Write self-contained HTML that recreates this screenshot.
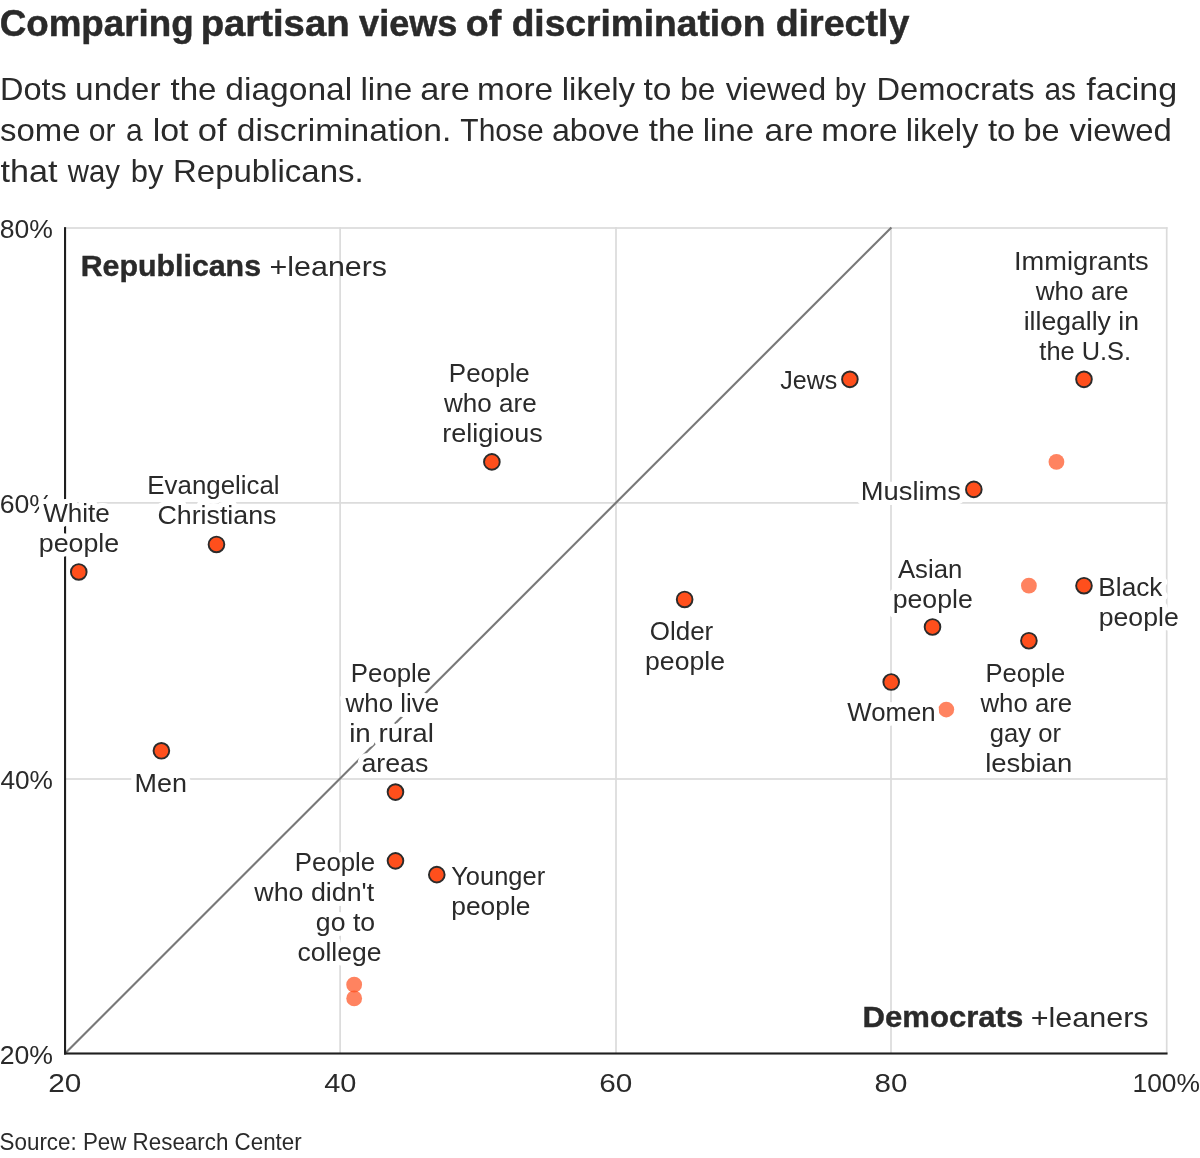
<!DOCTYPE html>
<html lang="en">
<head>
<meta charset="utf-8">
<title>Comparing partisan views of discrimination directly</title>
<style>
html,body{margin:0;padding:0;background:#fff;}
body{width:1200px;height:1158px;overflow:hidden;}
svg{display:block;will-change:transform;}
text{font-family:"Liberation Sans",Arial,Helvetica,sans-serif;fill:#2a2a2a;}
text.b{font-weight:700;}
text.h{paint-order:stroke fill;stroke:#fff;stroke-width:10px;stroke-linejoin:round;}
</style>
</head>
<body>
<svg width="1200" height="1158" viewBox="0 0 1200 1158">
<rect width="1200" height="1158" fill="#fff"/>
<g id="grid">
<rect x="339.25" y="227.15" width="1.7" height="826.35" fill="#dbdbdb"/>
<rect x="615.15" y="227.15" width="1.7" height="826.35" fill="#dbdbdb"/>
<rect x="890.15" y="227.15" width="1.7" height="826.35" fill="#dbdbdb"/>
<rect x="1165.85" y="227.15" width="1.7" height="826.35" fill="#dbdbdb"/>
<rect x="65" y="227.15" width="1102.55" height="1.7" fill="#dbdbdb"/>
<rect x="65" y="502.05" width="1102.55" height="1.7" fill="#dbdbdb"/>
<rect x="65" y="778.15" width="1102.55" height="1.7" fill="#dbdbdb"/>
<line x1="65" y1="1053.5" x2="891.4" y2="227.4" stroke="#787878" stroke-width="2.1"/>
<rect x="64" y="227.15" width="2.1" height="827.40" fill="#1f1f1f"/>
<rect x="64" y="1052.45" width="1103.55" height="2.1" fill="#1f1f1f"/>
</g>
<g id="dots">
<circle cx="1056.44" cy="461.89" r="7.9" fill="#ff4f1c" fill-opacity="0.7"/>
<circle cx="1028.90" cy="585.71" r="7.9" fill="#ff4f1c" fill-opacity="0.7"/>
<circle cx="946.28" cy="709.53" r="7.9" fill="#ff4f1c" fill-opacity="0.7"/>
<circle cx="354.17" cy="984.69" r="7.9" fill="#ff4f1c" fill-opacity="0.7"/>
<circle cx="354.17" cy="998.45" r="7.9" fill="#ff4f1c" fill-opacity="0.7"/>
<circle cx="78.77" cy="571.95" r="7.85" fill="#ff4f1c" stroke="#2b2b2b" stroke-width="1.9"/>
<circle cx="216.47" cy="544.43" r="7.85" fill="#ff4f1c" stroke="#2b2b2b" stroke-width="1.9"/>
<circle cx="491.87" cy="461.89" r="7.85" fill="#ff4f1c" stroke="#2b2b2b" stroke-width="1.9"/>
<circle cx="849.89" cy="379.34" r="7.85" fill="#ff4f1c" stroke="#2b2b2b" stroke-width="1.9"/>
<circle cx="1083.98" cy="379.34" r="7.85" fill="#ff4f1c" stroke="#2b2b2b" stroke-width="1.9"/>
<circle cx="973.82" cy="489.40" r="7.85" fill="#ff4f1c" stroke="#2b2b2b" stroke-width="1.9"/>
<circle cx="1083.98" cy="585.71" r="7.85" fill="#ff4f1c" stroke="#2b2b2b" stroke-width="1.9"/>
<circle cx="932.51" cy="626.98" r="7.85" fill="#ff4f1c" stroke="#2b2b2b" stroke-width="1.9"/>
<circle cx="1028.90" cy="640.74" r="7.85" fill="#ff4f1c" stroke="#2b2b2b" stroke-width="1.9"/>
<circle cx="891.20" cy="682.01" r="7.85" fill="#ff4f1c" stroke="#2b2b2b" stroke-width="1.9"/>
<circle cx="684.65" cy="599.47" r="7.85" fill="#ff4f1c" stroke="#2b2b2b" stroke-width="1.9"/>
<circle cx="161.39" cy="750.80" r="7.85" fill="#ff4f1c" stroke="#2b2b2b" stroke-width="1.9"/>
<circle cx="395.48" cy="792.08" r="7.85" fill="#ff4f1c" stroke="#2b2b2b" stroke-width="1.9"/>
<circle cx="395.48" cy="860.87" r="7.85" fill="#ff4f1c" stroke="#2b2b2b" stroke-width="1.9"/>
<circle cx="436.79" cy="874.63" r="7.85" fill="#ff4f1c" stroke="#2b2b2b" stroke-width="1.9"/>
</g>
<g id="labels">
<text y="35.80" font-size="36" class="b" stroke="#2a2a2a" stroke-width="0.5"><tspan x="-0.31" textLength="193.97" lengthAdjust="spacingAndGlyphs">Comparing</tspan> <tspan x="200.68" textLength="148.90" lengthAdjust="spacingAndGlyphs">partisan</tspan> <tspan x="359.06" textLength="98.42" lengthAdjust="spacingAndGlyphs">views</tspan> <tspan x="465.74" textLength="35.39" lengthAdjust="spacingAndGlyphs">of</tspan> <tspan x="511.68" textLength="253.83" lengthAdjust="spacingAndGlyphs">discrimination</tspan> <tspan x="775.66" textLength="133.74" lengthAdjust="spacingAndGlyphs">directly</tspan></text>
<text y="99.70" font-size="31.5"><tspan x="0.03" textLength="66.84" lengthAdjust="spacingAndGlyphs">Dots</tspan> <tspan x="75.13" textLength="85.42" lengthAdjust="spacingAndGlyphs">under</tspan> <tspan x="170.50" textLength="45.97" lengthAdjust="spacingAndGlyphs">the</tspan> <tspan x="225.29" textLength="126.96" lengthAdjust="spacingAndGlyphs">diagonal</tspan> <tspan x="360.46" textLength="51.71" lengthAdjust="spacingAndGlyphs">line</tspan> <tspan x="420.24" textLength="49.58" lengthAdjust="spacingAndGlyphs">are</tspan> <tspan x="477.08" textLength="76.10" lengthAdjust="spacingAndGlyphs">more</tspan> <tspan x="561.78" textLength="73.29" lengthAdjust="spacingAndGlyphs">likely</tspan> <tspan x="643.49" textLength="27.91" lengthAdjust="spacingAndGlyphs">to</tspan> <tspan x="680.26" textLength="35.14" lengthAdjust="spacingAndGlyphs">be</tspan> <tspan x="725.69" textLength="100.59" lengthAdjust="spacingAndGlyphs">viewed</tspan> <tspan x="834.80" textLength="31.05" lengthAdjust="spacingAndGlyphs">by</tspan> <tspan x="876.52" textLength="157.96" lengthAdjust="spacingAndGlyphs">Democrats</tspan> <tspan x="1044.53" textLength="31.55" lengthAdjust="spacingAndGlyphs">as</tspan> <tspan x="1086.22" textLength="90.98" lengthAdjust="spacingAndGlyphs">facing</tspan></text>
<text y="141.00" font-size="31.5"><tspan x="0.09" textLength="80.38" lengthAdjust="spacingAndGlyphs">some</tspan> <tspan x="88.74" textLength="26.76" lengthAdjust="spacingAndGlyphs">or</tspan> <tspan x="126.03" textLength="16.67" lengthAdjust="spacingAndGlyphs">a</tspan> <tspan x="152.71" textLength="35.83" lengthAdjust="spacingAndGlyphs">lot</tspan> <tspan x="197.85" textLength="28.80" lengthAdjust="spacingAndGlyphs">of</tspan> <tspan x="236.89" textLength="214.47" lengthAdjust="spacingAndGlyphs">discrimination.</tspan> <tspan x="460.33" textLength="83.31" lengthAdjust="spacingAndGlyphs">Those</tspan> <tspan x="551.93" textLength="87.80" lengthAdjust="spacingAndGlyphs">above</tspan> <tspan x="648.80" textLength="45.97" lengthAdjust="spacingAndGlyphs">the</tspan> <tspan x="702.78" textLength="51.39" lengthAdjust="spacingAndGlyphs">line</tspan> <tspan x="764.56" textLength="48.94" lengthAdjust="spacingAndGlyphs">are</tspan> <tspan x="821.38" textLength="76.10" lengthAdjust="spacingAndGlyphs">more</tspan> <tspan x="905.69" textLength="72.77" lengthAdjust="spacingAndGlyphs">likely</tspan> <tspan x="987.90" textLength="27.48" lengthAdjust="spacingAndGlyphs">to</tspan> <tspan x="1023.41" textLength="36.03" lengthAdjust="spacingAndGlyphs">be</tspan> <tspan x="1069.49" textLength="102.23" lengthAdjust="spacingAndGlyphs">viewed</tspan></text>
<text y="182.10" font-size="31.5"><tspan x="0.48" textLength="57.07" lengthAdjust="spacingAndGlyphs">that</tspan> <tspan x="67.74" textLength="52.31" lengthAdjust="spacingAndGlyphs">way</tspan> <tspan x="130.71" textLength="32.65" lengthAdjust="spacingAndGlyphs">by</tspan> <tspan x="172.99" textLength="190.72" lengthAdjust="spacingAndGlyphs">Republicans.</tspan></text>
<text x="-0.42" y="1150.00" font-size="24" textLength="302.09" lengthAdjust="spacingAndGlyphs">Source: Pew Research Center</text>
<text x="-0.15" y="238.40" font-size="26.5" textLength="53.10" lengthAdjust="spacingAndGlyphs">80%</text>
<text x="-0.35" y="513.30" font-size="26.5" textLength="53.30" lengthAdjust="spacingAndGlyphs">60%</text>
<text x="0.40" y="789.40" font-size="26.5" textLength="52.54" lengthAdjust="spacingAndGlyphs">40%</text>
<text x="-0.34" y="1063.90" font-size="26.5" textLength="53.29" lengthAdjust="spacingAndGlyphs">20%</text>
<text x="48.31" y="1092.00" font-size="26.5" textLength="33.06" lengthAdjust="spacingAndGlyphs">20</text>
<text x="324.24" y="1092.00" font-size="26.5" textLength="32.19" lengthAdjust="spacingAndGlyphs">40</text>
<text x="599.29" y="1092.00" font-size="26.5" textLength="33.07" lengthAdjust="spacingAndGlyphs">60</text>
<text x="874.52" y="1092.00" font-size="26.5" textLength="32.84" lengthAdjust="spacingAndGlyphs">80</text>
<text x="1132.49" y="1092.00" font-size="26.5" textLength="67.45" lengthAdjust="spacingAndGlyphs">100%</text>
<text x="80.67" y="276.00" font-size="29" textLength="180.37" lengthAdjust="spacingAndGlyphs" class="b" stroke="#2a2a2a" stroke-width="0.4">Republicans</text>
<text x="269.51" y="276.00" font-size="28.5" textLength="117.59" lengthAdjust="spacingAndGlyphs">+leaners</text>
<text x="862.62" y="1027.40" font-size="29" textLength="160.65" lengthAdjust="spacingAndGlyphs" class="b" stroke="#2a2a2a" stroke-width="0.4">Democrats</text>
<text x="1030.71" y="1027.40" font-size="28.5" textLength="117.89" lengthAdjust="spacingAndGlyphs">+leaners</text>
<text x="1013.99" y="269.70" font-size="25" textLength="134.75" lengthAdjust="spacingAndGlyphs" class="h">Immigrants</text>
<text x="1035.74" y="299.70" font-size="25" textLength="92.92" lengthAdjust="spacingAndGlyphs" class="h">who are</text>
<text x="1023.72" y="329.70" font-size="25" textLength="115.25" lengthAdjust="spacingAndGlyphs" class="h">illegally in</text>
<text x="1039.37" y="359.70" font-size="25" textLength="91.65" lengthAdjust="spacingAndGlyphs" class="h">the U.S.</text>
<text x="43.19" y="521.80" font-size="25" textLength="66.67" lengthAdjust="spacingAndGlyphs" class="h">White</text>
<text x="38.77" y="551.50" font-size="25" textLength="80.42" lengthAdjust="spacingAndGlyphs" class="h">people</text>
<text x="147.38" y="494.30" font-size="25" textLength="132.15" lengthAdjust="spacingAndGlyphs" class="h">Evangelical</text>
<text x="157.44" y="523.90" font-size="25" textLength="119.03" lengthAdjust="spacingAndGlyphs" class="h">Christians</text>
<text x="448.87" y="382.00" font-size="25" textLength="80.78" lengthAdjust="spacingAndGlyphs" class="h">People</text>
<text x="444.04" y="411.80" font-size="25" textLength="92.62" lengthAdjust="spacingAndGlyphs" class="h">who are</text>
<text x="442.21" y="441.60" font-size="25" textLength="100.57" lengthAdjust="spacingAndGlyphs" class="h">religious</text>
<text x="780.21" y="389.20" font-size="25" textLength="57.10" lengthAdjust="spacingAndGlyphs" class="h">Jews</text>
<text x="860.76" y="499.60" font-size="25" textLength="100.23" lengthAdjust="spacingAndGlyphs" class="h">Muslims</text>
<text x="897.95" y="577.60" font-size="25" textLength="64.32" lengthAdjust="spacingAndGlyphs" class="h">Asian</text>
<text x="892.68" y="607.60" font-size="25" textLength="80.10" lengthAdjust="spacingAndGlyphs" class="h">people</text>
<text x="1098.35" y="595.50" font-size="25" textLength="64.11" lengthAdjust="spacingAndGlyphs" class="h">Black</text>
<text x="1098.79" y="625.50" font-size="25" textLength="79.90" lengthAdjust="spacingAndGlyphs" class="h">people</text>
<text x="847.39" y="721.00" font-size="25" textLength="88.29" lengthAdjust="spacingAndGlyphs" class="h">Women</text>
<text x="985.50" y="681.60" font-size="25" textLength="79.63" lengthAdjust="spacingAndGlyphs" class="h">People</text>
<text x="980.44" y="711.60" font-size="25" textLength="91.71" lengthAdjust="spacingAndGlyphs" class="h">who are</text>
<text x="989.83" y="741.60" font-size="25" textLength="71.10" lengthAdjust="spacingAndGlyphs" class="h">gay or</text>
<text x="985.15" y="771.60" font-size="25" textLength="87.03" lengthAdjust="spacingAndGlyphs" class="h">lesbian</text>
<text x="649.77" y="639.75" font-size="25" textLength="63.46" lengthAdjust="spacingAndGlyphs" class="h">Older</text>
<text x="645.09" y="669.75" font-size="25" textLength="79.85" lengthAdjust="spacingAndGlyphs" class="h">people</text>
<text x="134.54" y="791.75" font-size="25" textLength="52.41" lengthAdjust="spacingAndGlyphs" class="h">Men</text>
<text x="350.89" y="681.50" font-size="25" textLength="80.26" lengthAdjust="spacingAndGlyphs" class="h">People</text>
<text x="345.64" y="711.50" font-size="25" textLength="93.51" lengthAdjust="spacingAndGlyphs" class="h">who live</text>
<text x="349.15" y="741.50" font-size="25" textLength="84.71" lengthAdjust="spacingAndGlyphs" class="h">in rural</text>
<text x="361.46" y="771.50" font-size="25" textLength="66.90" lengthAdjust="spacingAndGlyphs" class="h">areas</text>
<text x="294.89" y="871.25" font-size="25" textLength="80.26" lengthAdjust="spacingAndGlyphs" class="h">People</text>
<text x="254.34" y="901.25" font-size="25" textLength="119.86" lengthAdjust="spacingAndGlyphs" class="h">who didn&#x27;t</text>
<text x="315.88" y="931.25" font-size="25" textLength="59.24" lengthAdjust="spacingAndGlyphs" class="h">go to</text>
<text x="297.47" y="961.25" font-size="25" textLength="84.00" lengthAdjust="spacingAndGlyphs" class="h">college</text>
<text x="451.24" y="885.00" font-size="25" textLength="93.88" lengthAdjust="spacingAndGlyphs" class="h">Younger</text>
<text x="451.30" y="915.20" font-size="25" textLength="79.17" lengthAdjust="spacingAndGlyphs" class="h">people</text>
</g>
</svg>
</body>
</html>
